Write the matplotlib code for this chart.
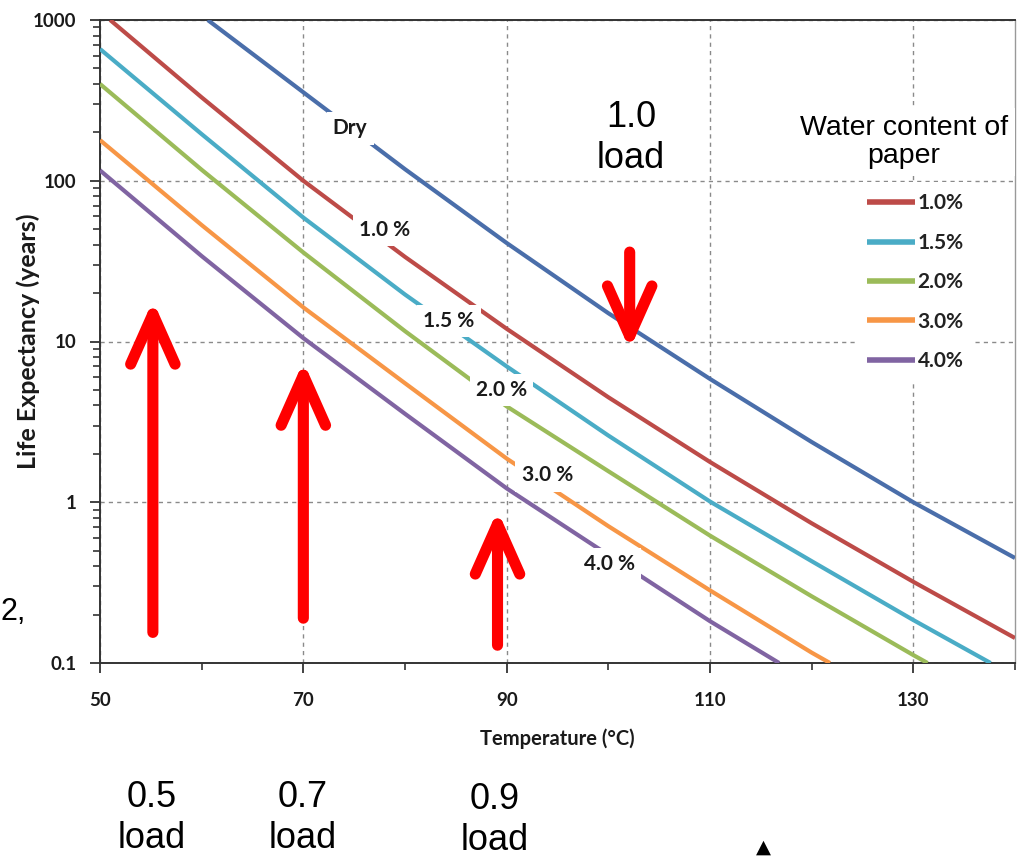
import matplotlib
matplotlib.use('Agg')
import matplotlib.pyplot as plt
from matplotlib.ticker import FixedLocator, FuncFormatter, LogLocator, NullFormatter

plt.rcParams['font.family'] = ['Lato', 'DejaVu Sans']

# ---------------- data ----------------
temps_dry = [60.6, 70, 80, 90, 100, 110, 120, 130, 140]
life_dry = [1000, 355, 118, 41, 15, 5.85, 2.37, 1.0, 0.45]

temps_10 = [51, 60, 70, 80, 90, 100, 110, 120, 130, 140]
life_10 = [1000, 330, 100, 33.6, 12.0, 4.5, 1.78, 0.74, 0.32, 0.143]

temps_15 = [50, 60, 70, 80, 90, 100, 110, 120, 130, 137.6]
life_15 = [660, 195, 59, 19.6, 7.0, 2.6, 1.01, 0.43, 0.185, 0.1]

temps_20 = [50, 60, 70, 80, 90, 100, 110, 120, 130, 131.4]
life_20 = [400, 117, 35.8, 11.6, 3.95, 1.56, 0.62, 0.26, 0.112, 0.1]

temps_30 = [50, 60, 70, 80, 90, 100, 110, 120, 121.8]
life_30 = [179, 53, 16.3, 5.5, 1.87, 0.71, 0.283, 0.116, 0.1]

temps_40 = [50, 60, 70, 80, 90, 100, 110, 116.8]
life_40 = [116, 34, 10.5, 3.55, 1.22, 0.47, 0.182, 0.1]

legend_labels = ['1.0%', '1.5%', '2.0%', '3.0%', '4.0%']
inline_labels = ['Dry', '1.0 %', '1.5 %', '2.0 %', '3.0 %', '4.0 %']
inline_label_temps = [74.6, 78.0, 84.3, 89.5, 94.0, 100.1]
inline_label_life = [212, 49.3, 13.4, 4.98, 1.47, 0.414]

x_major = [50, 70, 90, 110, 130]
x_minor = [60, 80, 100, 120, 140]
y_major = [0.1, 1, 10, 100, 1000]

# arrows: (temperature, tail value, tip value)
arrows = [(55.2, 0.155, 18.0), (70.0, 0.19, 7.5), (89.1, 0.129, 0.89), (102.1, 36, 8.9)]

colors = ['#4a6eaa', '#bd4b48', '#4aacc6', '#9bbb59', '#f79646', '#8064a2']

# ---------------- figure ----------------
fig = plt.figure(figsize=(10.17, 8.58), dpi=100)
ax = fig.add_axes([100 / 1017, 1 - 663 / 858, 915 / 1017, 643 / 858])
ax.set_yscale('log')

series = [(temps_dry, life_dry), (temps_10, life_10), (temps_15, life_15),
          (temps_20, life_20), (temps_30, life_30), (temps_40, life_40)]
handles = []
for i, (t, v) in enumerate(series):
    lab = '_nolegend_' if i == 0 else legend_labels[i - 1]
    ln, = ax.plot(t, v, color=colors[i], lw=3.0, label=lab, zorder=3,
                  solid_capstyle='butt')
    if i > 0:
        handles.append(ln)

ax.set_xlim(50, 140)
ax.set_ylim(0.1, 1000)

ax.xaxis.set_major_locator(FixedLocator(x_major))
ax.xaxis.set_minor_locator(FixedLocator(x_minor))
ax.xaxis.set_minor_formatter(NullFormatter())
ax.yaxis.set_major_locator(FixedLocator(y_major))
ax.yaxis.set_major_formatter(FuncFormatter(lambda v, p: f'{v:g}'))
ax.yaxis.set_minor_locator(LogLocator(base=10, subs=range(2, 10)))
ax.yaxis.set_minor_formatter(NullFormatter())

ax.tick_params(axis='both', which='major', direction='out', length=7, width=1.3,
               color='#333333', labelsize=13.5, labelcolor='#1a1a1a')
ax.tick_params(axis='x', which='major', pad=14)
ax.tick_params(axis='y', which='major', pad=10)
ax.tick_params(axis='both', which='minor', direction='out', length=5, width=1.2,
               color='#333333')
for lbl in ax.get_xticklabels() + ax.get_yticklabels():
    lbl.set_fontweight('bold')

ax.grid(True, which='major', axis='both', linestyle=(0, (3, 3)), color='#8a8a8a', lw=1.0, zorder=1)
ax.set_axisbelow(True)

for s in ['left', 'bottom', 'top']:
    ax.spines[s].set_color('#333333')
    ax.spines[s].set_linewidth(1.4)
ax.spines['right'].set_color('#999999')
ax.spines['right'].set_linewidth(1.0)

ax.set_xlabel('Temperature (°C)', fontsize=14.5, fontweight='bold', color='#1a1a1a', labelpad=14)
ax.set_ylabel('Life Expectancy (years)', fontsize=18, fontweight='bold', color='#1a1a1a')
ax.yaxis.set_label_coords(-60 / 915, 0.5)

# inline labels with white boxes that cut the lines
for txt, t, v in zip(inline_labels, inline_label_temps, inline_label_life):
    ax.text(t, v, txt, ha='center', va='center', fontsize=15, fontweight='bold', color='#1a1a1a',
            zorder=4, bbox=dict(boxstyle='square,pad=0.3', facecolor='white', edgecolor='none'))

# legend
leg = ax.legend(handles=handles, loc='upper left', bbox_to_anchor=(0.826, 0.748),
                frameon=True, facecolor='white', edgecolor='none', framealpha=1,
                fontsize=15, handlelength=2.3, handletextpad=0.12, labelspacing=0.93,
                borderpad=0.55, borderaxespad=0)
for t in leg.get_texts():
    t.set_fontweight('bold')
    t.set_color('#222222')
for h in leg.get_lines():
    h.set_linewidth(4)
leg.set_zorder(6)

fig.text(904 / 1017, 1 - 142 / 858, 'Water content of\npaper', ha='center', va='center',
         fontsize=20.5, family=['Liberation Sans', 'DejaVu Sans'], linespacing=1.1, zorder=7,
         bbox=dict(boxstyle='square,pad=0.25', facecolor='white', edgecolor='none'))

# red arrows
for t, y0, y1 in arrows:
    ax.annotate('', xy=(t, y1), xytext=(t, y0),
                arrowprops=dict(arrowstyle='->,head_length=3.6,head_width=1.6', color='#ff0000',
                                lw=8, shrinkA=0, shrinkB=0, capstyle='round', joinstyle='round',
                                mutation_scale=10),
                zorder=8)

# load annotations
big = dict(ha='center', va='center', fontsize=26, family=['Liberation Sans', 'DejaVu Sans'],
           linespacing=1.2, color='black')
fig.text(631 / 1017, 1 - 138 / 858, '1.0\nload', **big)
fig.text(152 / 1017, 1 - 818 / 858, '0.5\nload', **big)
fig.text(303 / 1017, 1 - 818 / 858, '0.7\nload', **big)
fig.text(495 / 1017, 1 - 820 / 858, '0.9\nload', **big)

# fragments at the figure edges
fig.text(0.0, 1 - 612 / 858, '2,', ha='left', va='center', fontsize=22,
         family=['Liberation Sans', 'DejaVu Sans'], color='black')
fig.text(763 / 1017, 1 / 858, '▲', ha='center', va='bottom', fontsize=14, color='black',
         family=['DejaVu Sans'])

fig.savefig('out.png', dpi=100)
